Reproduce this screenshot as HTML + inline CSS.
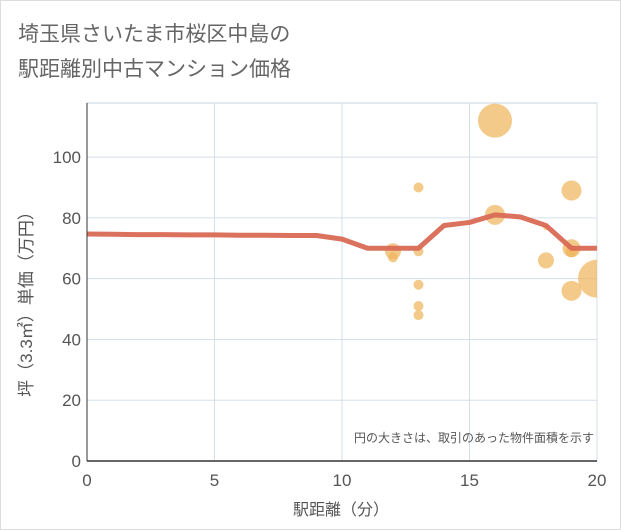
<!DOCTYPE html>
<html><head><meta charset="utf-8"><style>
body{margin:0;background:#fff;}
svg{display:block;font-family:"Liberation Sans","Noto Sans CJK JP",sans-serif;}
</style></head><body>
<svg id="c" width="621" height="530" viewBox="0 0 621 530">
<defs><clipPath id="plotclip"><rect x="87" y="103" width="510" height="358"/></clipPath></defs>
<rect x="0.5" y="0.5" width="620" height="529" fill="#fff" stroke="#ddd"/>
<text x="18" y="41" font-size="21" fill="#666">埼玉県さいたま市桜区中島の</text>
<text x="18" y="76" font-size="21" fill="#666">駅距離別中古マンション価格</text>
<g id="grid"></g>
<g id="bubbles" clip-path="url(#plotclip)"></g>
<g id="line"></g>
<g id="axes"></g>
<text x="594" y="442" font-size="12" fill="#555" text-anchor="end">円の大きさは、取引のあった物件面積を示す</text>
<text x="341" y="515" font-size="16" fill="#555" text-anchor="middle">駅距離（分）</text>
<text transform="translate(32,300) rotate(-90)" font-size="17" fill="#555" text-anchor="middle">坪（3.3㎡）単価（万円）</text>
</svg>
<script>
const xTicks=[0,5,10,15,20];
const yTicks=[0,20,40,60,80,100];
const lineX=[0,1,2,3,4,5,6,7,8,9,10,11,12,13,14,15,16,17,18,19,20];
const lineY=[74.7,74.6,74.5,74.5,74.4,74.4,74.3,74.3,74.2,74.2,73,70,70,70,77.5,78.5,81,80.3,77.5,70,70];
const bubX=[16,13,16,19,12,12,13,18,19,19,20,19,13,13,13,18];
const bubY=[112,90,81,89,69,67,69,66,70,69,60,56,58,51,48,77];
const bubR=[17,5,10,10,8,5,5,8,9,6,19,10,5,5,5,3];
const L=87,R=597,T=103,B=461;
const sx=v=>L+(v-0)/(20-0)*(R-L);
const sy=v=>B-v/117.8*(B-T);
const NS="http://www.w3.org/2000/svg";
function mk(t,a,p){const e=document.createElementNS(NS,t);for(const k in a)e.setAttribute(k,a[k]);p.appendChild(e);return e;}
const grid=document.getElementById('grid');
mk('rect',{x:L,y:T,width:R-L,height:B-T,fill:'#fff',stroke:'#c8d3de'},grid);
xTicks.forEach(v=>{const l=mk('line',{x1:sx(v),x2:sx(v),y1:T,y2:B,stroke:'#d5dfea','stroke-width':1},grid);

});
yTicks.forEach(v=>{const l=mk('line',{x1:L,x2:R,y1:sy(v),y2:sy(v),stroke:'#d5dfea','stroke-width':1},grid);

});
const bg=document.getElementById('bubbles');
bubX.forEach((x,i)=>{const c=mk('circle',{cx:sx(x),cy:sy(bubY[i]),r:bubR[i],fill:'#f0b45a','fill-opacity':0.7},bg);

});
const lg=document.getElementById('line');
const p=mk('polyline',{points:lineX.map((x,i)=>sx(x)+','+sy(lineY[i])).join(' '),fill:'none',stroke:'#d96a55','stroke-width':5,'stroke-linejoin':'round','stroke-opacity':0.95},lg);


const ax=document.getElementById('axes');
const a1=mk('line',{x1:L,x2:L,y1:T,y2:B,stroke:'#333','stroke-width':1},ax);


const a2=mk('line',{x1:L,x2:R,y1:B,y2:B,stroke:'#333','stroke-width':1.5},ax);


xTicks.forEach(v=>{const t=mk('text',{x:sx(v),y:B+25,'font-size':17,fill:'#555','text-anchor':'middle'},ax);t.textContent=v;

});
yTicks.forEach(v=>{const t=mk('text',{x:L-6,y:sy(v)+6,'font-size':17,fill:'#555','text-anchor':'end'},ax);t.textContent=v;

});
</script>
</body></html>
